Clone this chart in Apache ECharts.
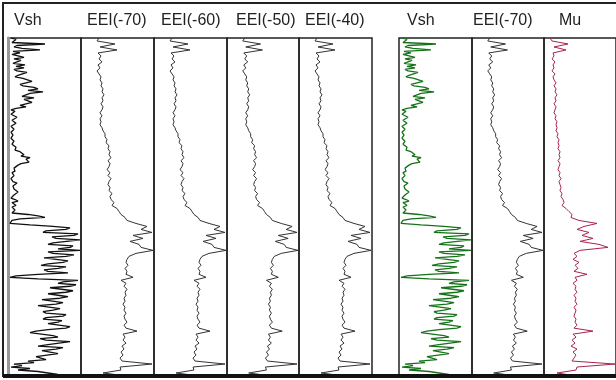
<html style="height: 100%">
<head>
<meta charset="utf-8">
</head>
<body style="height: 100%; margin: 0">
	<div id="container" style="width: 616px; height: 380px"></div>

	<script src="https://cdn.jsdelivr.net/npm/echarts@6/dist/echarts.min.js"></script>
	<script type="text/javascript">
		var dom = document.getElementById("container");
		var myChart = echarts.init(dom);

		// track titles
		var titles = ['Vsh', 'EEI(-70)', 'EEI(-60)', 'EEI(-50)', 'EEI(-40)', 'Vsh', 'EEI(-70)', 'Mu'];

		// Vsh (fraction), fine sampling
		var vsh = [0.03, 0.08, 0.10, 0.04, 0.37, 0.09, 0.06, 0.14, 0.32, 0.05,
			0.12, 0.04, 0.10, 0.16, 0.06, 0.13, 0.12, 0.05, 0.17, 0.08,
			0.16, 0.06, 0.09, 0.19, 0.18, 0.10, 0.07, 0.15, 0.14, 0.24,
			0.22, 0.12, 0.15, 0.26, 0.30, 0.20, 0.35, 0.22, 0.20, 0.14,
			0.26, 0.16, 0.14, 0.24, 0.22, 0.12, 0.18, 0.08, 0.03, 0.07,
			0.06, 0.03, 0.04, 0.09, 0.08, 0.04, 0.05, 0.08, 0.09, 0.03,
			0.04, 0.06, 0.06, 0.03, 0.03, 0.05, 0.05, 0.03, 0.04, 0.06,
			0.07, 0.04, 0.05, 0.08, 0.09, 0.07, 0.12, 0.10, 0.16, 0.13,
			0.22, 0.18, 0.19, 0.21, 0.13, 0.10, 0.08, 0.06, 0.05, 0.07,
			0.04, 0.03, 0.06, 0.04, 0.03, 0.05, 0.05, 0.09, 0.08, 0.05,
			0.04, 0.06, 0.06, 0.10, 0.09, 0.06, 0.05, 0.03, 0.07, 0.10,
			0.04, 0.06, 0.08, 0.04, 0.03, 0.07, 0.06, 0.04, 0.20, 0.30,
			0.37, 0.12, 0.04, 0.03, 0.02, 0.22, 0.45, 0.62, 0.58, 0.38,
			0.35, 0.70, 0.66, 0.44, 0.48, 0.72, 0.70, 0.45, 0.40, 0.65,
			0.62, 0.50, 0.72, 0.40, 0.45, 0.66, 0.58, 0.36, 0.38, 0.60,
			0.55, 0.40, 0.33, 0.58, 0.50, 0.36, 0.40, 0.60, 0.30, 0.08,
			0.02, 0.30, 0.70, 0.55, 0.50, 0.68, 0.62, 0.42, 0.44, 0.65,
			0.58, 0.40, 0.40, 0.60, 0.52, 0.34, 0.36, 0.55, 0.48, 0.30,
			0.32, 0.52, 0.45, 0.35, 0.38, 0.58, 0.55, 0.38, 0.35, 0.54,
			0.50, 0.40, 0.42, 0.62, 0.58, 0.40, 0.28, 0.22, 0.24, 0.45,
			0.50, 0.32, 0.38, 0.62, 0.60, 0.40, 0.30, 0.55, 0.48, 0.34,
			0.35, 0.50, 0.52, 0.28, 0.30, 0.38, 0.20, 0.26, 0.06, 0.14,
			0.03, 0.22, 0.10, 0.30, 0.40, 0.50, 0.30];

		// EEI (same look for every angle)
		var eei = [3800, 3600, 5400, 3900, 5600, 3700, 4000, 3800, 4100, 3700,
			3900, 3600, 3800, 4000, 3900, 4100, 4000, 4200, 4100, 4300,
			4100, 4200, 4000, 4200, 4100, 3900, 4100, 3900, 4000, 3900,
			4100, 4200, 4400, 4400, 4600, 4500, 4800, 4700, 4900, 4800,
			5000, 4700, 4900, 4800, 4600, 4900, 4700, 5000, 4800, 4700,
			4900, 4800, 5100, 4900, 5000, 5300, 5100, 5600, 5800, 6000,
			6400, 6600, 7500, 8600, 8000, 9100, 7200, 8200, 6900, 7800,
			8000, 9200, 7500, 6800, 6600, 6500, 6700, 6400, 6600, 6500,
			7200, 6000, 6500, 6300, 6600, 6400, 6500, 6300, 6400, 6200,
			6400, 6300, 6500, 6300, 6400, 6600, 6300, 6500, 7600, 6200,
			6400, 6200, 6500, 6100, 6300, 6000, 6200, 5900, 6100, 9100,
			5900, 6000, 4200, 6600];

		// Mu (GPa)
		var mu = [3, 4, 12, 5, 11, 4.5, 5, 4, 5.5, 4.5,
			5, 4, 5.5, 4.5, 5, 6, 5, 6, 5.5, 6.5,
			5.5, 6, 5, 6, 5.5, 5, 6, 5.5, 6.5, 6,
			6.5, 6, 7, 6.5, 7.5, 7, 7.5, 7, 8, 7.5,
			8, 7, 8, 7.5, 7, 8, 7.5, 8.5, 7.5, 8,
			8.5, 8, 9, 8.5, 9.5, 10, 9, 11, 12.5, 14,
			13.5, 17.5, 26.5, 20, 16.5, 22.5, 19, 24.5, 18, 27.5,
			32, 18, 15, 16.5, 14.5, 17.5, 15.5, 17, 15, 21.5,
			15.5, 16.5, 14.5, 16, 15.5, 16.5, 15, 16, 15.5, 16.5,
			15, 16, 15.5, 15, 16, 15.5, 16.5, 15, 24.5, 14.5,
			16, 14, 15.5, 13.5, 16.5, 14.5, 16, 15, 14, 35.5,
			16.5, 16, 6.5, 16.5];

		// depth samples (not labelled)
		function depthList(n) {
			var arr = [];
			for (var i = 0; i < n; i++) {
				arr.push(String(i));
			}
			return arr;
		}

		var panels = [
			{ left: 8, width: 73, data: vsh, min: 0, max: 0.73, color: '#111', lw: 1.3, tx: 14 },
			{ left: 81, width: 73, data: eei, min: 2000, max: 9300, color: '#333', lw: 1, tx: 87 },
			{ left: 154, width: 73, data: eei, min: 2000, max: 9300, color: '#333', lw: 1, tx: 161 },
			{ left: 227, width: 72, data: eei, min: 2000, max: 9300, color: '#333', lw: 1, tx: 236 },
			{ left: 299, width: 73, data: eei, min: 2000, max: 9300, color: '#333', lw: 1, tx: 305 },
			{ left: 399, width: 73, data: vsh, min: 0, max: 0.73, color: '#16721a', lw: 1.3, tx: 407 },
			{ left: 472, width: 72, data: eei, min: 2000, max: 9300, color: '#333', lw: 1, tx: 473 },
			{ left: 544, width: 72, data: mu, min: 0, max: 36, color: '#a8234f', lw: 1, tx: 559 }
		];

		var grid = [], xAxis = [], yAxis = [], series = [], graphic = [];
		panels.forEach(function (p, k) {
			grid.push({
				left: p.left, top: 38, width: p.width, height: 338,
				show: true, borderColor: '#222', borderWidth: 1.5
			});
			xAxis.push({ type: 'value', gridIndex: k, min: p.min, max: p.max, show: false });
			yAxis.push({
				type: 'category', gridIndex: k, data: depthList(p.data.length), inverse: true, boundaryGap: false,
				axisLine: { show: k === 0, lineStyle: { color: '#999', width: 3 } },
				axisTick: { show: false }, axisLabel: { show: false }, splitLine: { show: false }
			});
			series.push({
				name: titles[k], type: 'line', xAxisIndex: k, yAxisIndex: k,
				data: p.data, showSymbol: false, symbol: 'none',
				lineStyle: { color: p.color, width: p.lw }
			});
			graphic.push({
				type: 'text', z: 100,
				style: {
					text: titles[k], x: p.tx, y: 21, verticalAlign: 'middle',
					font: '16px "Liberation Sans", Arial, sans-serif', fill: '#222'
				}
			});
		});

		// frame
		graphic.push({ type: 'line', z: 100, shape: { x1: 2, y1: 3, x2: 616, y2: 3 }, style: { stroke: '#222', lineWidth: 2 } });
		graphic.push({ type: 'line', z: 100, shape: { x1: 3, y1: 3, x2: 3, y2: 377 }, style: { stroke: '#222', lineWidth: 2 } });
		graphic.push({ type: 'rect', z: 100, shape: { x: 3, y: 374, width: 613, height: 4 }, style: { fill: '#111' } });

		var option = {
			animation: false,
			backgroundColor: '#fff',
			grid: grid,
			xAxis: xAxis,
			yAxis: yAxis,
			series: series,
			graphic: graphic
		};
		myChart.setOption(option);
	</script>
</body>
</html>
